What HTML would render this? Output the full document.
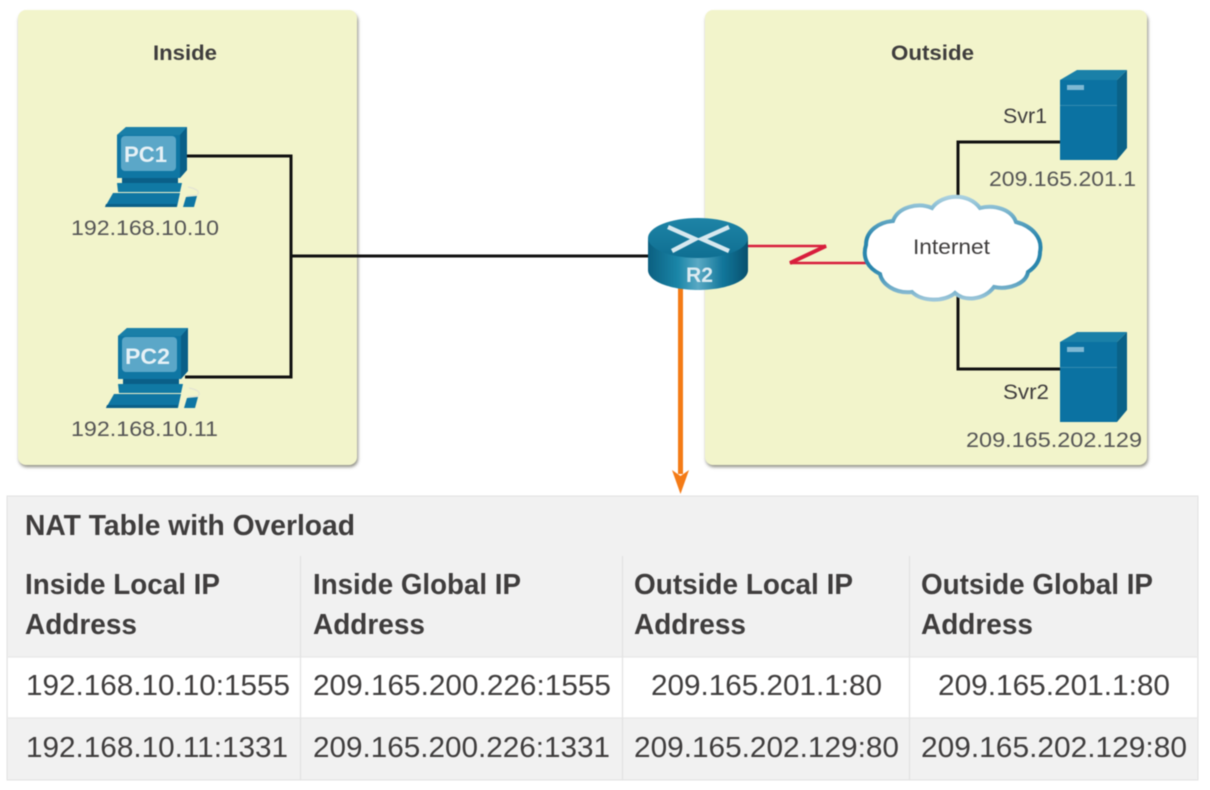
<!DOCTYPE html>
<html>
<head>
<meta charset="utf-8">
<style>
html,body{margin:0;padding:0;background:#fff;width:1210px;height:790px;overflow:hidden}
svg{display:block;filter:blur(0.5px)}
text{font-family:"Liberation Sans",sans-serif;fill:#3f3d3d}
.b{font-weight:bold}
</style>
</head>
<body>
<svg width="1210" height="790" viewBox="0 0 1210 790" xmlns="http://www.w3.org/2000/svg">
<defs>
<filter id="s" x="-5%" y="-5%" width="110%" height="110%"><feGaussianBlur stdDeviation="1.6"/></filter>
<linearGradient id="rside" x1="0" x2="1" y1="0" y2="0">
<stop offset="0" stop-color="#0b5f80"/><stop offset=".3" stop-color="#1a86a8"/><stop offset=".5" stop-color="#5aa9c4"/><stop offset=".75" stop-color="#11769a"/><stop offset="1" stop-color="#08506e"/>
</linearGradient>
<linearGradient id="rtop" x1="0" x2="0" y1="0" y2="1">
<stop offset="0" stop-color="#1e84a6"/><stop offset="1" stop-color="#0f6f92"/>
</linearGradient>
<linearGradient id="cl" x1="0" x2="0" y1="0" y2="1">
<stop offset="0" stop-color="#a9d0e0"/><stop offset=".4" stop-color="#2a86ad"/><stop offset=".7" stop-color="#2a86ad"/><stop offset="1" stop-color="#9cc6da"/>
</linearGradient>
<g id="pc">
<path d="M117 135 L126 127 L187 127 L187 170 L180 178 L117 178 Z" fill="#0f76a3"/>
<path d="M180 134 L187 127 L187 170 L180 178 Z" fill="#0a5f88"/>
<path d="M117 135 L126 127 L187 127 L180 135 Z" fill="#1a7fa8"/>
<rect x="121" y="136" width="55" height="35" rx="4" fill="#5ba7c8"/>
<path d="M122 178 L178 178 L178 183 L122 183 Z" fill="#0a5f88"/>
<path d="M117 183 L182 183 L180 192 L118 192 Z" fill="#1079a4"/>
<path d="M113 193 L180 193 L177 207 L105 207 Z" fill="#0f76a3"/>
<path d="M106 204 L177 204 L176 207 L105 207 Z" fill="#0a5f88"/>
<path d="M187 196 L197 195 Q202 190 188 187" fill="none" stroke="#e4e4d2" stroke-width="1.2"/>
<path d="M186 197 L197 196 L194 207 L183 207 Z" fill="#0f76a3"/>
</g>
<g id="srv">
<path d="M1060 80 L1077 70 L1127 70 L1117 80 Z" fill="#1a80a8"/>
<path d="M1117 80 L1127 70 L1127 148 L1117 160 Z" fill="#0a6288"/>
<rect x="1060" y="80" width="57" height="80" fill="#0b72a2"/>
<rect x="1060" y="105" width="57" height="0.8" fill="#3c8fb5"/>
<rect x="1067" y="85" width="17" height="5" fill="#7fb8d3"/>
</g>
</defs>

<!-- zones -->
<rect x="19" y="13" width="339" height="454" rx="8" fill="#8a8a80" filter="url(#s)"/>
<rect x="18" y="10" width="339" height="455" rx="8" fill="#f2f4cb"/>
<rect x="706" y="13" width="442" height="454" rx="8" fill="#8a8a80" filter="url(#s)"/>
<rect x="705" y="10" width="442" height="455" rx="8" fill="#f2f4cb"/>

<text class="b" x="153" y="60" font-size="21" textLength="64" lengthAdjust="spacingAndGlyphs">Inside</text>
<text class="b" x="891" y="60" font-size="21" textLength="83" lengthAdjust="spacingAndGlyphs">Outside</text>

<!-- links -->
<path d="M185 156 H291 V377 H185 M291 256 H650" fill="none" stroke="#111" stroke-width="3"/>
<path d="M1062 142 H958 V200 M958 296 V369 H1062" fill="none" stroke="#111" stroke-width="3"/>
<path d="M748 246 H826 L790 263 H866" fill="none" stroke="#d81e3c" stroke-width="2.4"/>
<path d="M790 263 L826 246" stroke="#d81e3c" stroke-width="4" fill="none"/>
<rect x="678" y="288" width="5" height="186" fill="#f47b16"/>
<path d="M672 470 L680.5 494 L689 470 L680.5 476 Z" fill="#f47b16"/>

<!-- PCs -->
<use href="#pc"/>
<use href="#pc" x="1" y="201"/>
<text x="124" y="162" font-size="22" class="b" style="fill:#e6f1f6" textLength="43" lengthAdjust="spacingAndGlyphs">PC1</text>
<text x="125" y="364" font-size="22" class="b" style="fill:#e6f1f6" textLength="45" lengthAdjust="spacingAndGlyphs">PC2</text>
<text x="71" y="235" font-size="21" style="fill:#555" textLength="148" lengthAdjust="spacingAndGlyphs">192.168.10.10</text>
<text x="71" y="436" font-size="21" style="fill:#555" textLength="147" lengthAdjust="spacingAndGlyphs">192.168.10.11</text>

<!-- router -->
<path d="M648 238 V270 C648 282 672 290 698 290 C724 290 748 282 748 270 V238 Z" fill="url(#rside)"/>
<ellipse cx="698" cy="238" rx="50" ry="20" fill="url(#rtop)"/>
<path d="M668 227 L695 239 L672 251 M729 227 L702 239 L729 251" fill="none" stroke="#d6e8ef" stroke-width="4.5"/>
<text x="686" y="282" font-size="21" class="b" style="fill:#dcebf1" textLength="27" lengthAdjust="spacingAndGlyphs">R2</text>

<!-- servers -->
<use href="#srv"/>
<use href="#srv" y="262"/>
<text x="1003" y="123" font-size="21" textLength="44" lengthAdjust="spacingAndGlyphs">Svr1</text>
<text x="1003" y="399" font-size="21" textLength="46" lengthAdjust="spacingAndGlyphs">Svr2</text>
<text x="989" y="186" font-size="21" style="fill:#555" textLength="147" lengthAdjust="spacingAndGlyphs">209.165.201.1</text>
<text x="966" y="447" font-size="21" style="fill:#555" textLength="176" lengthAdjust="spacingAndGlyphs">209.165.202.129</text>

<!-- cloud -->
<path d="M866 245 C866 230 880 222 893 221 C898 207 918 202 932 208 C942 194 968 192 980 208 C995 204 1012 210 1016 222 C1032 226 1043 238 1040 252 C1040 262 1034 268 1028 272 C1026 284 1008 290 994 287 C984 300 965 302 955 293 C945 302 922 302 912 292 C895 294 882 284 880 274 C868 268 862 258 866 245 Z" fill="#fff" stroke="url(#cl)" stroke-width="4"/>
<text x="913" y="254" font-size="21" textLength="77" lengthAdjust="spacingAndGlyphs">Internet</text>

<!-- table -->
<rect x="7" y="496" width="1191" height="284" fill="#f1f1f1" stroke="#e2e2e2"/>
<rect x="8" y="657" width="1189" height="61" fill="#fff"/>
<path d="M8 657 H1197 M8 718 H1197" stroke="#e8e8e8" stroke-width="1.2"/>
<path d="M300.500 556 V780 M622.500 556 V780 M909.500 556 V780" stroke="#e2e2e2" stroke-width="1.2"/>

<text class="b" x="25" y="535" font-size="29" textLength="330" lengthAdjust="spacingAndGlyphs">NAT Table with Overload</text>

<text class="b" x="25" y="594" font-size="29" textLength="195" lengthAdjust="spacingAndGlyphs">Inside Local IP</text>
<text class="b" x="25" y="634" font-size="29" textLength="112" lengthAdjust="spacingAndGlyphs">Address</text>
<text class="b" x="313" y="594" font-size="29" textLength="208" lengthAdjust="spacingAndGlyphs">Inside Global IP</text>
<text class="b" x="313" y="634" font-size="29" textLength="112" lengthAdjust="spacingAndGlyphs">Address</text>
<text class="b" x="634" y="594" font-size="29" textLength="219" lengthAdjust="spacingAndGlyphs">Outside Local IP</text>
<text class="b" x="634" y="634" font-size="29" textLength="112" lengthAdjust="spacingAndGlyphs">Address</text>
<text class="b" x="921" y="594" font-size="29" textLength="232" lengthAdjust="spacingAndGlyphs">Outside Global IP</text>
<text class="b" x="921" y="634" font-size="29" textLength="112" lengthAdjust="spacingAndGlyphs">Address</text>

<text x="26" y="695" font-size="29" textLength="264" lengthAdjust="spacingAndGlyphs">192.168.10.10:1555</text>
<text x="313" y="695" font-size="29" textLength="298" lengthAdjust="spacingAndGlyphs">209.165.200.226:1555</text>
<text x="651" y="695" font-size="29" textLength="231" lengthAdjust="spacingAndGlyphs">209.165.201.1:80</text>
<text x="938" y="695" font-size="29" textLength="232" lengthAdjust="spacingAndGlyphs">209.165.201.1:80</text>

<text x="26" y="757" font-size="29" textLength="262" lengthAdjust="spacingAndGlyphs">192.168.10.11:1331</text>
<text x="313" y="757" font-size="29" textLength="297" lengthAdjust="spacingAndGlyphs">209.165.200.226:1331</text>
<text x="634" y="757" font-size="29" textLength="265" lengthAdjust="spacingAndGlyphs">209.165.202.129:80</text>
<text x="921" y="757" font-size="29" textLength="266" lengthAdjust="spacingAndGlyphs">209.165.202.129:80</text>
</svg>
</body>
</html>
